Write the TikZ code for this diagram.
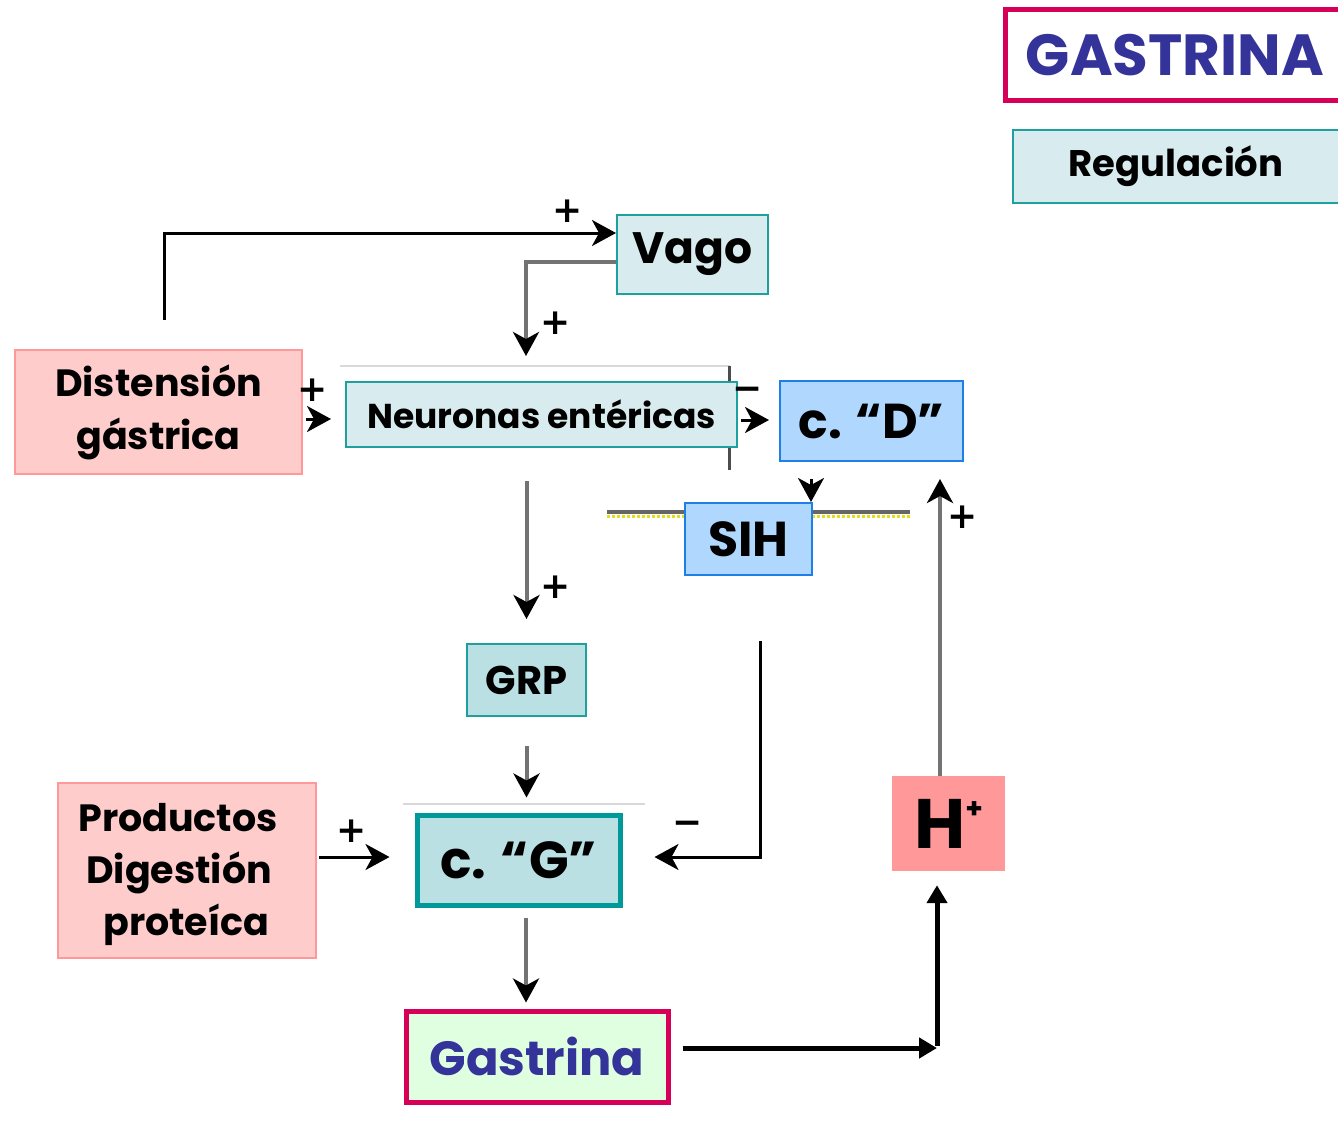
\documentclass[tikz,border=0pt]{standalone}
\usepackage{fontspec}
\setmainfont{Poppins}
\newfontfamily\symfont{DejaVu Sans}
\usetikzlibrary{arrows.meta}
\definecolor{crim}{RGB}{214,0,88}
\definecolor{dblue}{RGB}{51,51,153}
\definecolor{teal1}{RGB}{30,160,158}
\definecolor{teal2}{RGB}{0,153,153}
\definecolor{cyanf}{RGB}{216,236,239}
\definecolor{tealf}{RGB}{186,224,227}
\definecolor{pinkf}{RGB}{255,204,204}
\definecolor{pinkd}{RGB}{255,153,153}
\definecolor{bluef}{RGB}{176,216,255}
\definecolor{blued}{RGB}{30,127,232}
\definecolor{greenf}{RGB}{224,255,224}
\newcommand\fs[1]{\fontsize{#1}{#1}\selectfont\bfseries}
\newcommand\fss[2]{\fontsize{#1}{#2}\selectfont\bfseries}
\tikzset{
  box/.style={rectangle, inner sep=0pt, align=center, text=black},
  cyanbox/.style={box, fill=cyanf, draw=teal1, line width=2pt},
  tealbox/.style={box, fill=tealf, draw=teal1, line width=2pt},
  pinkbox/.style={box, fill=pinkf, draw=pinkd, line width=2pt},
  bluebox/.style={box, fill=bluef, draw=blued, line width=2pt},
  arr/.style={draw=black, line width=3pt, -{Stealth[length=24pt,width=26pt,inset=7pt,color=black]}},
  garr/.style={arr, draw=black!55, line width=4pt},
  bigarr/.style={draw=black, line width=5pt, -{Triangle[length=18pt,width=20pt]}},
  sign/.style={inner sep=0pt, font=\symfont\fs{36}}
}
\begin{document}
\begin{tikzpicture}[x=1pt,y=-1pt]
\clip (0,0) rectangle (1338,1136);
\fill[white] (0,0) rectangle (1338,1136);
% faint frame lines behind
\draw[black!15, line width=2pt] (340,366) -- (730,366);
\draw[black!15, line width=2pt] (403,804) -- (645,804);
\draw[black!70, line width=3pt] (729,366) -- (729,470);
% membrane line
\draw[yellow!90!black, line width=3pt, dotted] (607,516) -- (910,516);
\draw[black!60, line width=4pt] (607,512) -- (910,512);
% title boxes
\node[box, fill=white, draw=crim, line width=5pt, minimum width=340pt, minimum height=91pt, text=dblue, font=\fs{58}] (title) at (1175,55) {GASTRINA};
\node[cyanbox, minimum width=332pt, minimum height=73pt, font=\fs{37}] (reg) at (1179,166.5) {\hspace*{-6pt}Regulación};
% nodes
\node[cyanbox, minimum width=151pt, minimum height=79pt, font=\fs{44}] (vago) at (692.5,254.5) {Vago};
\node[pinkbox, minimum width=287pt, minimum height=124pt, font=\fss{38}{53}] (dist) at (158.5,412) {Distensión\\gástrica};
\node[cyanbox, minimum width=391pt, minimum height=65pt, font=\fs{34.5}] (neur) at (541.5,414.5) {Neuronas entéricas};
\node[bluebox, minimum width=183pt, minimum height=80pt, font=\fs{49}] (cD) at (871.5,421) {c. “D”};
\node[bluebox, minimum width=127pt, minimum height=72pt, font=\fs{49}] (sih) at (748.5,539) {SIH};
\node[tealbox, minimum width=119pt, minimum height=72pt, font=\fs{40}] (grp) at (526.5,680) {GRP};
\node[box, fill=tealf, draw=teal2, line width=5pt, minimum width=203pt, minimum height=90pt, font=\fs{52}] (cG) at (518.5,860) {c. “G”};
\node[pinkbox, minimum width=258pt, minimum height=175pt,
  label={[align=left, inner sep=0pt, font=\fss{38}{52}, xshift=-9pt, yshift=-4pt]center:Productos\\\hspace*{8pt}Digestión\\\hspace*{25pt}proteíca}] (prod) at (187,870.5) {};
\node[box, fill=greenf, draw=crim, line width=5pt, minimum width=262pt, minimum height=91pt, text=dblue, font=\fs{48}] (gas) at (537,1056.5) {Gastrina};
\node[box, fill=pinkd, minimum width=113pt, minimum height=95pt] (hp) at (948.5,823.5) {{\fs{70}H}\raisebox{30pt}{\fs{28}+}};
% connectors
\coordinate (d1) at (164,320);
\draw[arr] (d1) |- ([yshift=-19pt]vago.north west);
\node[sign] at (568,211) {+};
\draw[garr, shorten >=25pt] ([yshift=-48pt]vago.north west) -| ([xshift=-15.5pt]neur.north);
\node[sign] at (556,323) {+};
\draw[arr, shorten <=3pt, shorten >=14pt] ([yshift=-7pt]dist.east) -- ([yshift=-7pt]dist.east -| neur.west);
\node[sign] at (313,390) {+};
\draw[arr, shorten <=3pt, shorten >=10pt] ([yshift=-5.5pt]neur.east) -- ([yshift=-5.5pt]neur.east -| cD.west);
\node[sign] at (748,394) {−};
\draw[arr, shorten <=17pt] ([xshift=-2pt]cD.south -| sih.north east) -- ([xshift=-2pt]sih.north east);
\draw[garr, shorten <=33pt, shorten >=24pt] (neur.south -| grp.north) -- (grp.north);
\node[sign] at (556,587) {+};
\draw[garr, shorten <=29pt, shorten >=15pt] (grp.south) -- (grp.south |- cG.north);
\draw[arr, shorten <=65pt, shorten >=32pt] ([xshift=11.5pt]sih.south) |- ([yshift=3pt]cG.east);
\node[sign] at (688,828) {−};
\draw[arr, shorten <=2pt, shorten >=25pt] ([yshift=3pt]cG.east -| prod.east) -- ([yshift=3pt]cG.west);
\node[sign] at (352,831) {+};
\draw[garr, shorten <=10pt, shorten >=6pt] ([xshift=7.5pt]cG.south) -- ([xshift=7.5pt]cG.south |- gas.north);
\coordinate (corner) at (937,1048);
\draw[bigarr, shorten <=12pt] ([yshift=8.5pt]gas.east) -- (corner);
\draw[bigarr, shorten >=14pt] ([yshift=2pt]corner) -- (corner |- hp.south);
\draw[garr, shorten >=17pt] ([xshift=-8.5pt]hp.north) -- ([xshift=-8.5pt]hp.north |- cD.south);
\node[sign] at (963,517) {+};
\end{tikzpicture}
\end{document}
